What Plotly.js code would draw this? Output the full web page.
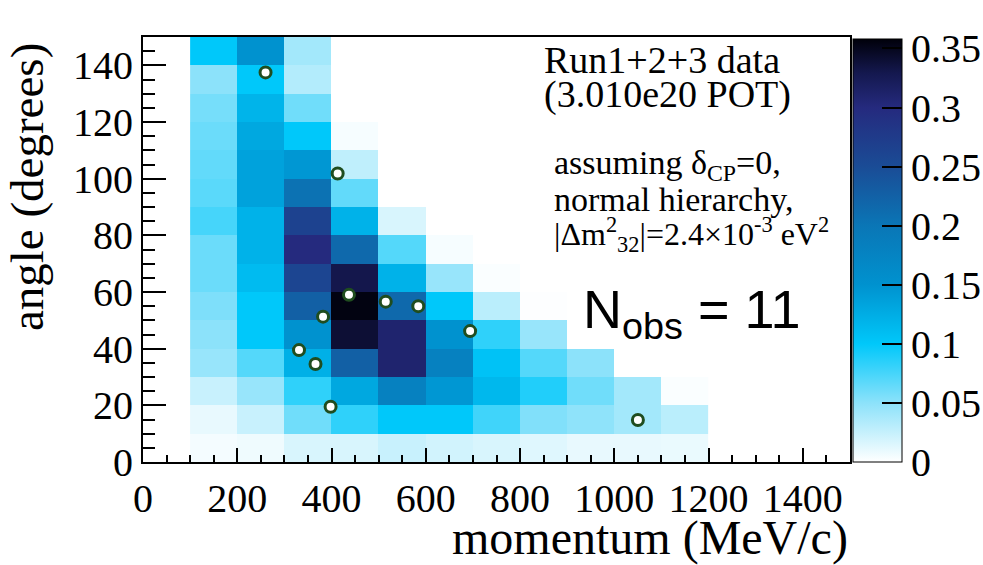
<!DOCTYPE html>
<html>
<head>
<meta charset="utf-8">
<script src="https://cdn.plot.ly/plotly-3.0.1.min.js"></script>
<style>html,body{margin:0;padding:0;background:#fff;}#chart{width:983px;height:565px;}</style>
</head>
<body>
<div id="chart"></div>
<script>
// Bin centres (MeV/c) and (degrees)
const momentumBins = [150, 250, 350, 450, 550, 650, 750, 850, 950, 1050, 1150];
const angleBins = [5, 15, 25, 35, 45, 55, 65, 75, 85, 95, 105, 115, 125, 135, 145];

// Expected event density, one row per angle bin (0-10 deg first)
const row0  = [0.005, 0.007, 0.017, 0.017, 0.024, 0.020, 0.017, 0.014, 0.010, 0.010, 0.009];
const row1  = [0.010, 0.024, 0.060, 0.083, 0.100, 0.100, 0.077, 0.054, 0.049, 0.040, 0.030];
const row2  = [0.024, 0.045, 0.083, 0.130, 0.180, 0.145, 0.115, 0.088, 0.060, 0.040, 0.002];
const row3  = [0.045, 0.070, 0.122, 0.226, 0.310, 0.180, 0.105, 0.070, 0.050, 0.000, 0.000];
const row4  = [0.050, 0.100, 0.150, 0.340, 0.310, 0.150, 0.083, 0.045, 0.000, 0.000, 0.000];
const row5  = [0.055, 0.100, 0.226, 0.355, 0.215, 0.100, 0.030, 0.001, 0.000, 0.000, 0.000];
const row6  = [0.062, 0.112, 0.260, 0.330, 0.120, 0.045, 0.002, 0.000, 0.000, 0.000, 0.000];
const row7  = [0.062, 0.120, 0.300, 0.215, 0.070, 0.004, 0.000, 0.000, 0.000, 0.000, 0.000];
const row8  = [0.075, 0.120, 0.265, 0.120, 0.017, 0.000, 0.000, 0.000, 0.000, 0.000, 0.000];
const row9  = [0.068, 0.135, 0.205, 0.065, 0.000, 0.000, 0.000, 0.000, 0.000, 0.000, 0.000];
const row10 = [0.065, 0.135, 0.145, 0.028, 0.000, 0.000, 0.000, 0.000, 0.000, 0.000, 0.000];
const row11 = [0.062, 0.130, 0.100, 0.004, 0.000, 0.000, 0.000, 0.000, 0.000, 0.000, 0.000];
const row12 = [0.058, 0.118, 0.060, 0.000, 0.000, 0.000, 0.000, 0.000, 0.000, 0.000, 0.000];
const row13 = [0.050, 0.100, 0.033, 0.000, 0.000, 0.000, 0.000, 0.000, 0.000, 0.000, 0.000];
const row14 = [0.100, 0.150, 0.040, 0.000, 0.000, 0.000, 0.000, 0.000, 0.000, 0.000, 0.000];

// Observed events
const obsMomentum = [260, 413, 437, 515, 584, 382, 694, 331, 366, 398, 1050];
const obsAngle    = [137.5, 101.8, 59, 56.6, 55, 51.3, 46.2, 39.5, 34.6, 19.5, 14.8];

// Colour-bar ticks
const cbTicks = [0, 0.05, 0.1, 0.15, 0.2, 0.25, 0.3, 0.35];
const cbTickText = ['0', '0.05', '0.1', '0.15', '0.2', '0.25', '0.3', '0.35'];

const zRows = [row0,row1,row2,row3,row4,row5,row6,row7,row8,row9,row10,row11,row12,row13,row14];

const serif = 'Liberation Serif';

const heat = {
  type: 'heatmap',
  x: momentumBins,
  y: angleBins,
  z: zRows,
  zmin: 0,
  zmax: 0.358,
  zsmooth: false,
  colorscale: [
    [0, '#ffffff'], [0.14, '#8ce2fa'], [0.279, '#00c8fa'], [0.419, '#0092cf'],
    [0.559, '#0a76b6'], [0.698, '#1a4c96'], [0.838, '#252a7e'], [0.92, '#14184e'], [1, '#00000a']
  ],
  hoverinfo: 'skip',
  colorbar: {
    x: 1.0042, xanchor: 'left', xpad: 0,
    y: 0, yanchor: 'bottom', ypad: 0,
    len: 423, lenmode: 'pixels',
    thickness: 49, thicknessmode: 'pixels',
    outlinewidth: 1, outlinecolor: '#000',
    tickmode: 'array', tickvals: cbTicks, ticktext: cbTickText,
    ticks: 'inside', ticklen: 20, tickwidth: 2, tickcolor: '#000',
    tickfont: {family: serif, size: 40, color: '#000'}
  }
};

const pts = {
  type: 'scatter', mode: 'markers',
  x: obsMomentum, y: obsAngle,
  marker: {symbol: 'circle', size: 11, color: '#ffffff', line: {color: '#1f4d1f', width: 3}},
  hoverinfo: 'skip', showlegend: false
};

const layout = {
  width: 983, height: 565,
  margin: {l: 143, r: 133, t: 37, b: 103, autoexpand: false},
  paper_bgcolor: '#fff', plot_bgcolor: '#fff',
  showlegend: false,
  xaxis: {
    range: [0, 1500], tick0: 0, dtick: 200, ticks: 'inside', ticklen: 14, tickwidth: 2, tickcolor: '#000',
    minor: {dtick: 50, ticks: 'inside', ticklen: 7, tickwidth: 2, tickcolor: '#000'},
    showgrid: false, zeroline: false, showline: true, mirror: true, linecolor: '#000', linewidth: 2,
    tickfont: {family: serif, size: 40, color: '#000'}, fixedrange: true
  },
  yaxis: {
    range: [0, 150], tick0: 0, dtick: 20, ticks: 'inside', ticklen: 23, tickwidth: 2, tickcolor: '#000',
    minor: {dtick: 5, ticks: 'inside', ticklen: 12, tickwidth: 2, tickcolor: '#000'},
    showgrid: false, zeroline: false, showline: true, mirror: true, linecolor: '#000', linewidth: 2,
    tickfont: {family: serif, size: 40, color: '#000'}, fixedrange: true
  },
  annotations: [
    {text: 'momentum (MeV/c)', xref: 'paper', yref: 'paper', x: 1.0, xanchor: 'right', y: -0.178, yanchor: 'middle',
     showarrow: false, font: {family: serif, size: 48, color: '#000'}},
    {text: 'angle (degrees)', xref: 'paper', yref: 'paper', x: -0.164, xanchor: 'center', y: 0.647, yanchor: 'middle',
     textangle: -90, showarrow: false, font: {family: serif, size: 47, color: '#000'}},
    {text: 'Run1+2+3 data', xref: 'paper', yref: 'paper', x: 0.564, xanchor: 'left', y: 0.945, yanchor: 'middle',
     showarrow: false, font: {family: serif, size: 38, color: '#000'}},
    {text: '(3.010e20 POT)', xref: 'paper', yref: 'paper', x: 0.564, xanchor: 'left', y: 0.865, yanchor: 'middle',
     showarrow: false, font: {family: serif, size: 38, color: '#000'}},
    {text: 'assuming δ<sub>CP</sub>=0,', xref: 'paper', yref: 'paper', x: 0.578, xanchor: 'left', y: 0.70, yanchor: 'middle',
     showarrow: false, font: {family: serif, size: 34, color: '#000'}},
    {text: 'normal hierarchy,', xref: 'paper', yref: 'paper', x: 0.578, xanchor: 'left', y: 0.617, yanchor: 'middle',
     showarrow: false, font: {family: serif, size: 34, color: '#000'}},
    {text: '|Δm<sup>2</sup><sub>32</sub>|=2.4×10<sup>-3</sup> eV<sup>2</sup>', xref: 'paper', yref: 'paper', x: 0.578, xanchor: 'left', y: 0.535, yanchor: 'middle',
     showarrow: false, font: {family: serif, size: 32, color: '#000'}},
    {text: 'N<sub>obs</sub> = 11', xref: 'paper', yref: 'paper', x: 0.62, xanchor: 'left', y: 0.35, yanchor: 'middle',
     showarrow: false, font: {family: 'Liberation Sans', size: 54, color: '#000'}}
  ]
};

Plotly.newPlot('chart', [heat, pts], layout, {staticPlot: true, displayModeBar: false});
</script>
</body>
</html>
